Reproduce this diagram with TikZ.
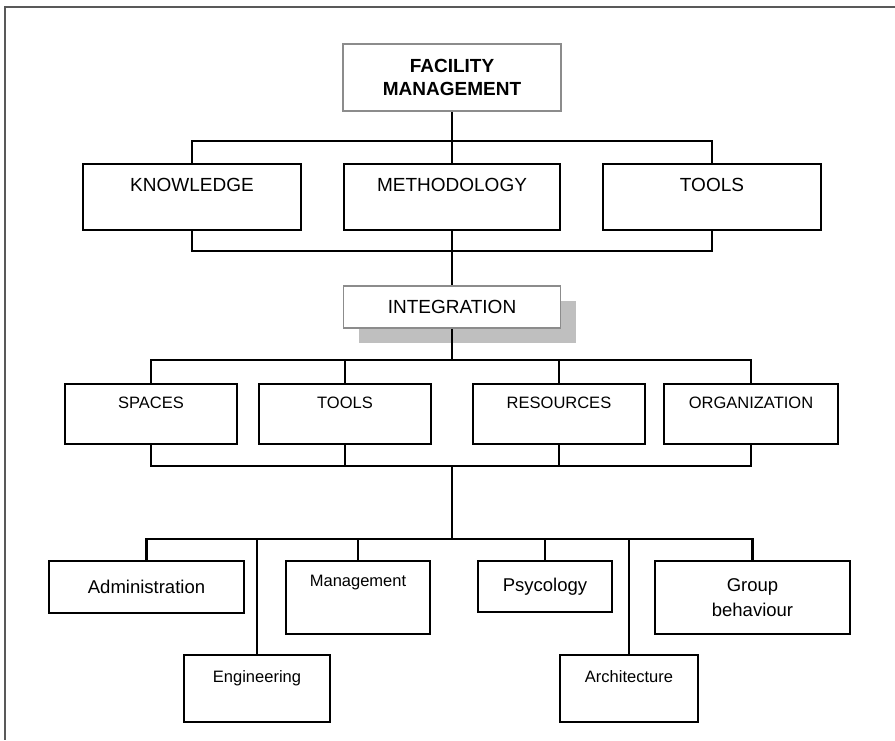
\documentclass[tikz,border=0pt]{standalone}
\usepackage{fontspec}
\setmainfont{Liberation Sans}
\usetikzlibrary{positioning,shadows}
\newcommand{\bigtxt}{\fontsize{19}{23}\selectfont}
\newcommand{\midtxt}{\fontsize{18.5}{25}\selectfont}
\newcommand{\smalltxt}{\fontsize{16.5}{20}\selectfont}

\begin{document}
\begin{tikzpicture}[
    x=1pt, y=-1pt,
    box/.style={
        draw=black,
        line width=2.1pt,
        inner sep=0pt,
        anchor=north,
        align=center,
        fill=white
    },
    headbox/.style={
        box,
        draw=black!45,
        line width=1.8pt
    },
    link/.style={line width=2.1pt},
    frame/.style={draw=black!65, line width=2pt}
]
\useasboundingbox (0,0) rectangle (895,740);

% outer frame, only top and left are visible
\draw[frame] (895,7) -- (5,7) -- (5,740);

% bus coordinates
\coordinate (bus1) at (452,141);
\coordinate (bus1b) at (452,251);
\coordinate (bus2) at (452,360);
\coordinate (bus3) at (452,466);
\coordinate (bus4) at (452,539);

% head
\node[headbox, minimum width=218pt, minimum height=67pt, font=\bigtxt\bfseries]
    (fm) at (452,43) {FACILITY\\MANAGEMENT};

% first row
\node[box, minimum width=218pt, text height=27.8pt, text depth=38.2pt, font=\bigtxt]
    (knowledge) at (192,163) {KNOWLEDGE};
\node[box, minimum width=216pt, text height=27.8pt, text depth=38.2pt, font=\bigtxt]
    (method) at (452,163) {METHODOLOGY};
\node[box, minimum width=218pt, text height=27.8pt, text depth=38.2pt, font=\bigtxt]
    (tools) at (712,163) {TOOLS};

% integration
\node[headbox, minimum width=217pt, minimum height=42pt, font=\bigtxt,
    drop shadow={shadow xshift=15pt, shadow yshift=-15pt, fill=black!25, opacity=1}]
    (integ) at (452,285) {INTEGRATION};

% second row
\node[box, minimum width=172pt, text height=24.9pt, text depth=34.6pt, font=\smalltxt]
    (spaces) at (151,383) {SPACES};
\node[box, minimum width=172pt, text height=24.9pt, text depth=34.6pt, font=\smalltxt]
    (tooltwo) at (345,383) {TOOLS};
\node[box, minimum width=172pt, text height=24.9pt, text depth=34.6pt, font=\smalltxt]
    (resources) at (559,383) {RESOURCES};
\node[box, minimum width=174pt, text height=24.9pt, text depth=34.6pt, font=\smalltxt]
    (organization) at (751,383) {ORGANIZATION};

% third row
\node[box, minimum width=195pt, minimum height=52pt, font=\midtxt]
    (admin) at (146.5,560) {Administration};
\node[box, minimum width=144pt, text height=25.9pt, text depth=47.1pt, font=\smalltxt]
    (mgmt) at (358,560) {Management};
\node[box, minimum width=134pt, minimum height=51pt, font=\midtxt]
    (psy) at (545,560) {Psycology};
\node[box, minimum width=195pt, minimum height=73pt, font=\midtxt]
    (group) at (752.5,560) {Group\\behaviour};
\node[box, minimum width=146pt, text height=27.9pt, text depth=39.1pt, font=\smalltxt]
    (eng) at (257,654) {Engineering};
\node[box, minimum width=138pt, text height=27pt, text depth=40pt, font=\smalltxt]
    (arch) at (629,654) {Architecture};

% connectors
\draw[link] (fm.south) -- (method.north);
\draw[link] (knowledge.north) |- (bus1) -| (tools.north);
\draw[link] (knowledge.south) |- (bus1b) -| (tools.south);
\draw[link] (method.south) -- (integ.north);

\draw[link] (integ.south) -- (bus2);
\draw[link] (spaces.north) |- (bus2) -| (organization.north);
\draw[link] (tooltwo.north) |- (bus2);
\draw[link] (resources.north) |- (bus2);

\draw[link] (spaces.south) |- (bus3) -| (organization.south);
\draw[link] (tooltwo.south) |- (bus3);
\draw[link] (resources.south) |- (bus3);
\draw[link] (bus3) -- (bus4);

\draw[link] (admin.north) |- (bus4) -| (group.north);
\draw[link] (eng.north) |- (bus4);
\draw[link] (mgmt.north) |- (bus4);
\draw[link] (psy.north) |- (bus4);
\draw[link] (arch.north) |- (bus4);

\end{tikzpicture}
\end{document}
